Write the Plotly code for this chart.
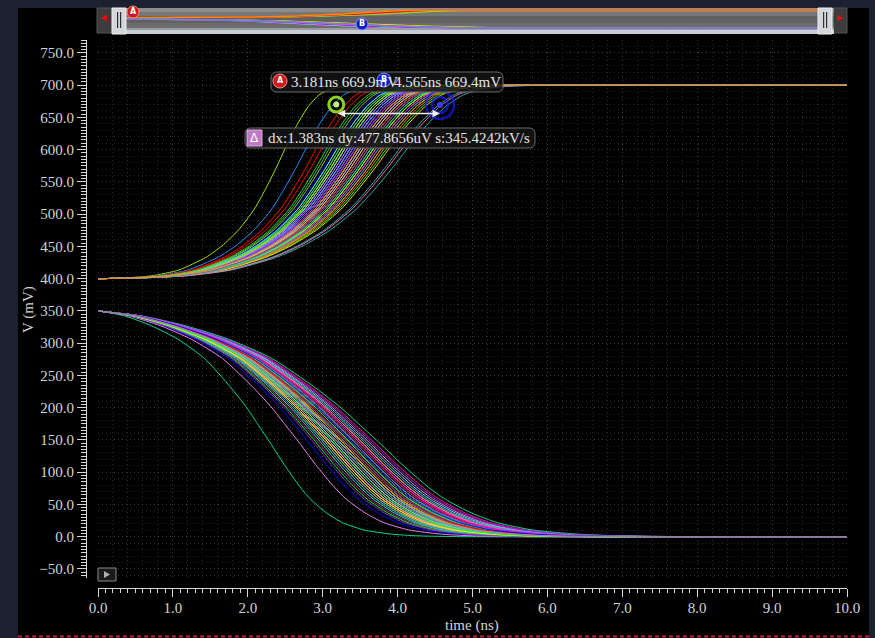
import plotly.graph_objects as go

W, H = 875, 638


def px(x):
    return x / W


def py(y):
    return 1 - y / H


# ---- waveform data -------------------------------------------------------
# nominal rising edge: time (ns) and fraction of the 400 -> 700 mV swing
rise_t = [0, 0.5, 1.0, 1.5, 2.0, 2.3, 2.6, 2.9, 3.1, 3.3, 3.5, 3.7, 3.9, 4.1, 4.3, 4.6, 5.1, 6.0, 14.0]
rise_n = [0, 0.004, 0.015, 0.045, 0.11, 0.17, 0.25, 0.36, 0.46, 0.57, 0.69, 0.80, 0.89, 0.95, 0.978, 0.994, 1.0, 1.0, 1.0]
rise_lo_mv = 400.0
rise_hi_mv = 700.0

# nominal falling edge: time (ns) and fraction of the 350 mV start level
fall_t = [0, 0.5, 1.0, 1.5, 2.0, 2.5, 2.8, 3.0, 3.2, 3.5, 3.8, 4.0, 4.3, 4.6, 5.0, 5.5, 6.0, 7.0, 14.0]
fall_n = [1.0, 0.978, 0.935, 0.875, 0.79, 0.66, 0.57, 0.50, 0.43, 0.32, 0.22, 0.165, 0.105, 0.062, 0.03, 0.012, 0.004, 0.0, 0.0]
fall_hi_mv = 350.0

# per-run delay factors of the Monte Carlo sweep
rise_scale = [1.02, 0.94, 1.07, 0.98, 1.11, 0.91, 1.00, 1.04, 0.96, 0.72, 1.09, 0.99,
              1.03, 0.93, 1.06, 0.97, 1.01, 0.88, 1.05, 0.95, 1.16, 0.99, 1.02, 0.92,
              1.08, 0.97, 1.00, 0.86, 1.04, 0.96, 1.10, 0.98, 1.03, 0.94, 1.06, 0.80,
              1.01, 0.95, 1.12, 0.99, 1.05, 0.93, 1.02, 0.97, 1.19, 0.90, 1.04, 0.98,
              1.07, 0.95, 1.00, 0.84, 1.03, 0.96, 1.09, 0.99, 1.01, 0.94, 1.06, 0.97,
              1.17, 0.92, 1.02, 0.98, 1.05, 0.89, 1.00, 0.96, 1.08, 0.95, 1.03, 1.01]
fall_scale = [0.97, 1.05, 1.00, 0.93, 1.10, 0.99, 1.03, 0.95, 1.07, 0.71, 1.01, 0.96,
              1.12, 0.98, 1.04, 0.91, 1.06, 1.00, 0.94, 1.09, 0.97, 1.02, 0.87, 1.05,
              0.99, 1.14, 0.95, 1.03, 0.98, 1.08, 0.92, 1.01, 0.96, 1.16, 1.04, 0.97,
              0.83, 1.06, 1.00, 0.94, 1.11, 0.99, 1.02, 0.96, 1.07, 0.90, 1.03, 0.98,
              1.13, 0.95, 1.05, 1.00, 0.93, 1.09, 0.97, 1.01, 0.89, 1.04, 0.99, 1.06,
              0.96, 1.10, 0.94, 1.02, 0.98, 1.08, 1.00, 0.95, 1.03, 0.97, 1.05, 1.01]

palette = ["#ff00ff", "#00ffff", "#ffff00", "#ff0000", "#00ff00", "#0000ff",
           "#ff8000", "#a020f0", "#ff1493", "#a8e000", "#7fff00", "#1e90ff",
           "#ff69b4", "#40e0d0", "#ffd700", "#8a2be2", "#00d890", "#32cd32",
           "#4169e1", "#ee82ee", "#20b2aa", "#9acd32", "#c71585", "#87cefa"]

# cursor readouts
mark_a = (3.181, 669.9)
mark_b = (4.565, 669.4)
delta_text = "dx:1.383ns dy:477.8656uV s:345.4242kV/s"

x_range = [0, 10.0]
y_range = [-64, 770]

FONT = "Liberation Serif"
TXT = "#d4d4d4"
NAVY = "#1b2131"

fig = go.Figure()


def rise_run(s):
    xs = [t * s for t in rise_t]
    ys = [rise_lo_mv + n * (rise_hi_mv - rise_lo_mv) for n in rise_n]
    return xs, ys


def fall_run(s):
    xs = [t * s for t in fall_t]
    ys = [n * fall_hi_mv for n in fall_n]
    return xs, ys


line_kw = dict(shape="spline", smoothing=0.6, width=1)

for i, s in enumerate(rise_scale):
    xs, ys = rise_run(s)
    fig.add_trace(go.Scatter(x=xs, y=ys, mode="lines",
                             line=dict(color=palette[i % len(palette)], **line_kw),
                             hoverinfo="skip", showlegend=False))
for i, s in enumerate(fall_scale):
    xs, ys = fall_run(s)
    fig.add_trace(go.Scatter(x=xs, y=ys, mode="lines",
                             line=dict(color=palette[(i + 7) % len(palette)], **line_kw),
                             hoverinfo="skip", showlegend=False))

# last runs drawn on top: orange rise, lavender fall
xs, ys = rise_run(1.0)
fig.add_trace(go.Scatter(x=xs, y=ys, mode="lines", line=dict(color="#f08c00", **line_kw),
                         hoverinfo="skip", showlegend=False))
xs, ys = fall_run(1.0)
fig.add_trace(go.Scatter(x=xs, y=ys, mode="lines", line=dict(color="#8484e8", **line_kw),
                         hoverinfo="skip", showlegend=False))

# cursors A and B
fig.add_trace(go.Scatter(x=[mark_a[0]], y=[mark_a[1]], mode="markers",
                         marker=dict(symbol="circle-open", size=15, color="#8fd21a", line=dict(width=3)),
                         hoverinfo="skip", showlegend=False))
fig.add_trace(go.Scatter(x=[mark_a[0]], y=[mark_a[1]], mode="markers",
                         marker=dict(symbol="circle", size=6, color="#c8f27a"),
                         hoverinfo="skip", showlegend=False))
fig.add_trace(go.Scatter(x=[mark_b[0]] * 2, y=[mark_b[1]] * 2, mode="markers",
                         marker=dict(symbol="circle-open", size=[28, 16], color="#1a1aff",
                                     line=dict(width=2.5)),
                         hoverinfo="skip", showlegend=False))
fig.add_trace(go.Scatter(x=[mark_b[0]], y=[mark_b[1]], mode="markers",
                         marker=dict(symbol="circle", size=6, color="#3a3aff"),
                         hoverinfo="skip", showlegend=False))

# grid-only overlay axes
fig.add_trace(go.Scatter(x=[None], y=[None], xaxis="x2", yaxis="y2", showlegend=False))

# overview strip: a subset of runs
for i, s in enumerate(rise_scale[::4]):
    xs, ys = rise_run(s)
    fig.add_trace(go.Scatter(x=xs, y=ys, xaxis="x3", yaxis="y3", mode="lines",
                             line=dict(color=palette[(i * 3) % len(palette)], width=1),
                             hoverinfo="skip", showlegend=False))
for i, s in enumerate(fall_scale[::4]):
    xs, ys = fall_run(s)
    fig.add_trace(go.Scatter(x=xs, y=ys, xaxis="x3", yaxis="y3", mode="lines",
                             line=dict(color=palette[(i * 5 + 2) % len(palette)], width=1),
                             hoverinfo="skip", showlegend=False))
xs, ys = rise_run(1.0)
fig.add_trace(go.Scatter(x=xs, y=ys, xaxis="x3", yaxis="y3", mode="lines",
                         line=dict(color="#f08c00", width=1.5), hoverinfo="skip", showlegend=False))
xs, ys = fall_run(1.0)
fig.add_trace(go.Scatter(x=xs, y=ys, xaxis="x3", yaxis="y3", mode="lines",
                         line=dict(color="#7c7ce0", width=1.5), hoverinfo="skip", showlegend=False))

# ---- frame decoration ------------------------------------------------------
shapes = []


def rect(x0, y0, x1, y1, fill, line=None, layer="below", width=1):
    shapes.append(dict(type="rect", xref="paper", yref="paper",
                       x0=px(x0), x1=px(x1), y0=py(y1), y1=py(y0),
                       fillcolor=fill, line=dict(color=line or fill, width=0 if line is None else width),
                       layer=layer))


def rrect(x0, y0, x1, y1, r, fill, line, layer="above", width=1):
    pts = [
        ("M", x0 + r, y0), ("L", x1 - r, y0), ("Q", x1, y0, x1, y0 + r),
        ("L", x1, y1 - r), ("Q", x1, y1, x1 - r, y1), ("L", x0 + r, y1),
        ("Q", x0, y1, x0, y1 - r), ("L", x0, y0 + r), ("Q", x0, y0, x0 + r, y0),
    ]
    d = ""
    for p in pts:
        vals = p[1:]
        coords = [f"{px(vals[k]):.5f},{py(vals[k + 1]):.5f}" for k in range(0, len(vals), 2)]
        d += p[0] + " " + " ".join(coords) + " "
    d += "Z"
    shapes.append(dict(type="path", xref="paper", yref="paper", path=d,
                       fillcolor=fill, line=dict(color=line, width=width), layer=layer))


def circle(cx, cy, r, fill, line=None, layer="above"):
    shapes.append(dict(type="circle", xref="paper", yref="paper",
                       x0=px(cx - r), x1=px(cx + r), y0=py(cy + r), y1=py(cy - r),
                       fillcolor=fill, line=dict(color=line or fill, width=1), layer=layer))


def tri(points, fill, layer="below"):
    d = "M " + " L ".join(f"{px(a):.5f},{py(b):.5f}" for a, b in points) + " Z"
    shapes.append(dict(type="path", xref="paper", yref="paper", path=d,
                       fillcolor=fill, line=dict(color=fill, width=0), layer=layer))


# navy window frame
rect(0, 0, 18, H, NAVY)
rect(0, 0, W, 8, NAVY)
rect(869, 0, W, H, NAVY)
shapes.append(dict(type="line", xref="paper", yref="paper", x0=px(18), x1=px(869),
                   y0=py(636.5), y1=py(636.5), line=dict(color="#c8203c", width=2, dash="4px,3px"),
                   layer="above"))

# overview slider
rect(97, 8, 113, 33, "#3c3c3c", "#555555")
rect(832, 8, 847, 33, "#3c3c3c", "#555555")
tri([(101, 18), (107, 14.5), (107, 21.5)], "#e01010")
tri([(843, 18), (837, 14.5), (837, 21.5)], "#e01010")
rect(112, 8, 834, 12, "#8c8c8c")
rect(112, 12, 834, 16, "#767676")
rect(112, 16, 834, 23, "#616161")
rect(112, 23, 834, 28, "#6c6c6c")
rect(112, 28, 834, 30, "#9a9ca2")
rect(112, 30, 834, 34, "#c8ccd4")
rect(112, 8, 126, 34, "#d4d6da", "#f0f0f0", layer="above")
rect(818, 8, 832, 34, "#d4d6da", "#f0f0f0", layer="above")
for xl in (117, 120, 823, 826):
    rect(xl, 12, xl + 1.2, 28, "#303030", layer="above")
circle(133, 12, 6, "#d01818", "#ff8080")
circle(362, 24, 6, "#1020c8", "#8090ff")

# readout boxes
rrect(271, 72, 503, 92, 6, "rgba(20,20,20,0.85)", "#6a6a6a")
rrect(245, 128, 535, 148, 6, "rgba(20,20,20,0.85)", "#6a6a6a")
circle(280, 81, 7, "#d01818", "#ff9090")
circle(384, 80, 7, "#1020d0", "#8090ff")
rect(247, 130, 262, 146, "#c07ac4", "#e0b0e4", layer="above")

# play button
rect(98, 568, 116, 581, "#1a1a1a", "#8a8a8a", layer="above")
tri([(104, 571), (104, 578), (110, 574.5)], "#b0b0b0", layer="above")


def label(text, x, y, size=15, color="#e6e6e6", xanchor="left", family=FONT, angle=0):
    return dict(text=text, x=px(x), y=py(y), xref="paper", yref="paper",
                xanchor=xanchor, yanchor="middle", showarrow=False, textangle=angle,
                font=dict(family=family, size=size, color=color))


annotations = [
    label("time (ns)", 472, 625, color=TXT, xanchor="center"),
    label("V (mV)", 28, 310, color=TXT, xanchor="center", angle=-90),
    label(f"{mark_a[0]:.3f}ns {mark_a[1]:.1f}mV", 289, 82),
    label(f"{mark_b[0]:.3f}ns {mark_b[1]:.1f}mV", 392, 82),
    label(delta_text, 266, 138),
    label("<b>A</b>", 280, 81, size=8, color="white", xanchor="center", family="DejaVu Sans"),
    label("<b>B</b>", 384, 80, size=8, color="white", xanchor="center", family="DejaVu Sans"),
    label("<b>A</b>", 133, 12, size=8, color="white", xanchor="center", family="DejaVu Sans"),
    label("<b>B</b>", 362, 24, size=8, color="white", xanchor="center", family="DejaVu Sans"),
    label("Δ", 254.5, 138, size=12, color="white", xanchor="center", family="DejaVu Sans"),
    # cursor span arrow
    dict(x=mark_b[0], y=656, ax=mark_a[0], ay=656, xref="x", yref="y", axref="x", ayref="y",
         text="", showarrow=True, arrowhead=2, arrowside="end+start", arrowsize=1,
         arrowwidth=1.5, arrowcolor="#f0f0f0"),
]

axis_font = dict(family=FONT, size=15, color=TXT)
tick_col = "#d8d8d8"

fig.update_layout(
    width=W, height=H,
    margin=dict(l=0, r=0, t=0, b=0, pad=0, autoexpand=False),
    paper_bgcolor="#000000",
    plot_bgcolor="rgba(0,0,0,0)",
    showlegend=False,
    shapes=shapes,
    annotations=annotations,
    xaxis=dict(domain=[px(98), px(847)], range=x_range, anchor="free", position=py(588),
               automargin=False, ticklabelstandoff=-2,
               showline=True, linecolor=tick_col, linewidth=1, ticks="outside", ticklen=8,
               tickwidth=1, tickcolor=tick_col, dtick=1, tick0=0, tickformat=".1f",
               tickfont=axis_font, showgrid=False, zeroline=False,
               minor=dict(dtick=0.1, ticks="outside", ticklen=4, tickcolor=tick_col, showgrid=False)),
    yaxis=dict(domain=[py(578), py(40)], range=y_range, anchor="free", position=px(86),
               automargin=False,
               showline=True, linecolor=tick_col, linewidth=1, ticks="outside", ticklen=9,
               tickwidth=1, tickcolor=tick_col, dtick=50, tick0=0, tickformat=".1f",
               tickfont=axis_font, showgrid=False, zeroline=False,
               minor=dict(dtick=5, ticks="outside", ticklen=5, tickcolor=tick_col, showgrid=False)),
    xaxis2=dict(overlaying="x", anchor="y2", range=x_range, dtick=1, tick0=0, automargin=False,
                showgrid=True, gridcolor="#3c3c3c", griddash="1px,3px", gridwidth=1,
                showticklabels=False, ticks="", zeroline=False, showline=False,
                minor=dict(dtick=0.2, showgrid=True, gridcolor="#262626", griddash="1px,3px")),
    yaxis2=dict(overlaying="y", anchor="x2", range=y_range, dtick=50, tick0=0, automargin=False,
                showgrid=True, gridcolor="#3c3c3c", griddash="1px,3px", gridwidth=1,
                showticklabels=False, ticks="", zeroline=False, showline=False,
                minor=dict(dtick=10, showgrid=True, gridcolor="#262626", griddash="1px,3px")),
    xaxis3=dict(domain=[px(126), px(818)], range=x_range, anchor="y3", visible=False, automargin=False),
    yaxis3=dict(domain=[py(29), py(9)], range=[-40, 740], anchor="x3", visible=False, automargin=False),
)

fig.write_html("out.html")
